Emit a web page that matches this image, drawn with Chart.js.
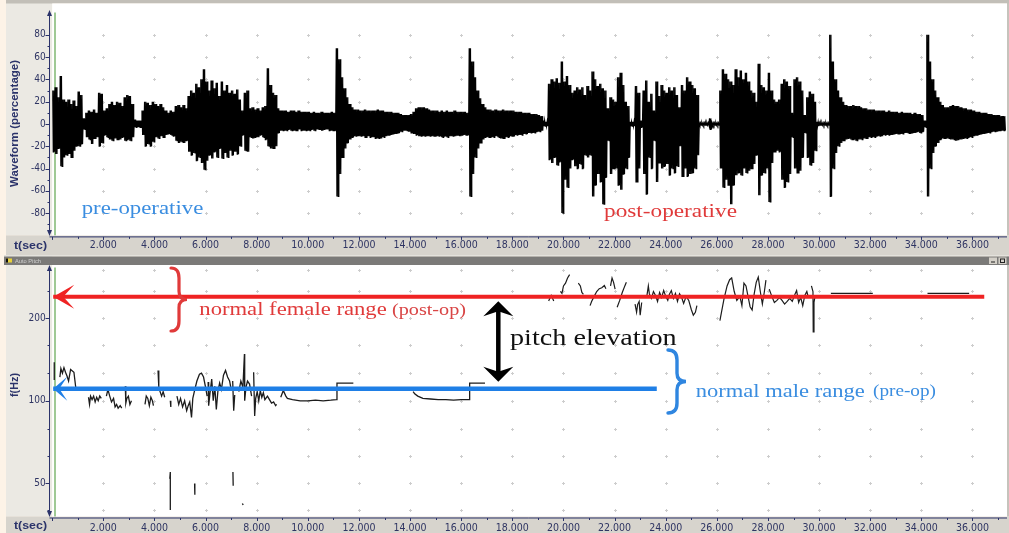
<!DOCTYPE html>
<html>
<head>
<meta charset="utf-8">
<script src="https://cdn.jsdelivr.net/npm/chart.js@4.4.1/dist/chart.umd.min.js"></script>
<style>
  html, body { margin: 0; padding: 0; background: #fdf3e7; }
  body { width: 1009px; height: 533px; position: relative; overflow: hidden; }
  canvas { position: absolute; left: 0; }
  #wave { top: 0; }
  #pitch { top: 255px; }
</style>
</head>
<body>
<canvas id="wave" width="1009" height="255"></canvas>
<canvas id="pitch" width="1009" height="278"></canvas>
<script>
// ---- time axis ----
const TIME_MAX = 37.35;
const TIME_STEP = 2;

// ---- waveform envelope, one value per 0.1 s bin (percent of full scale) ----
const WAVE_BIN = 0.1;
const waveUpper = [
  30, 33, 24, 43, 22, 20, 22, 18, 21, 16,
  29, 26, 5, 10, 12, 11, 13, 10, 28, 27,
  12, 14, 18, 20, 17, 20, 19, 16, 24, 26,
  25, 18, 4, 3, 3, 12, 20, 19, 17, 20,
  18, 16, 18, 15, 12, 10, 12, 11, 16, 17,
  15, 17, 14, 25, 30, 28, 36, 33, 40, 49,
  38, 30, 39, 32, 37, 25, 38, 30, 35, 28,
  30, 27, 31, 22, 12, 28, 30, 14, 15, 13,
  14, 12, 15, 16, 50, 35, 28, 26, 14, 12,
  12, 12, 11, 12, 12, 11, 12, 11, 11, 11,
  11, 10, 11, 10, 10, 11, 10, 10, 10, 11,
  10, 68, 58, 42, 32, 24, 18, 15, 13, 13,
  12, 12, 13, 12, 12, 12, 12, 13, 12, 12,
  11, 11, 11, 10, 10, 10, 9, 8, 8, 8,
  9, 11, 14, 15, 15, 15, 14, 13, 12, 12,
  12, 11, 12, 11, 12, 11, 11, 12, 11, 11,
  11, 11, 10, 68, 56, 42, 30, 23, 18, 15,
  13, 13, 12, 13, 12, 12, 13, 12, 12, 12,
  12, 11, 11, 11, 10, 10, 10, 9, 9, 9,
  8, 7, 3, 2, 36, 40, 38, 41, 37, 56,
  38, 43, 35, 28, 30, 33, 31, 33, 26, 34,
  30, 47, 40, 34, 36, 32, 30, 14, 24, 22,
  20, 42, 46, 35, 20, 16, 2, 2, 34, 28,
  3, 30, 39, 20, 27, 12, 38, 25, 35, 30,
  28, 33, 30, 33, 26, 15, 35, 30, 42, 38,
  35, 32, 26, 1, 1, 1, 1, 5, 1, 1,
  1, 30, 49, 45, 40, 38, 35, 49, 42, 48,
  40, 46, 38, 30, 28, 20, 54, 35, 33, 30,
  46, 30, 22, 20, 22, 36, 40, 38, 34, 10,
  40, 42, 38, 30, 8, 24, 29, 27, 20, 2,
  1, 1, 1, 1, 80, 56, 40, 30, 24, 20,
  17, 16, 16, 17, 16, 16, 15, 14, 14, 13,
  13, 13, 12, 12, 12, 12, 11, 12, 11, 11,
  11, 10, 11, 10, 10, 10, 9, 10, 9, 9,
  8, 3, 80, 56, 40, 30, 24, 20, 17, 15,
  15, 16, 17, 16, 16, 15, 14, 14, 13, 13,
  12, 11, 11, 10, 10, 10, 9, 9, 8, 8,
  8, 7, 7
];
const waveLower = [
  -25, -27, -22, -38, -30, -28, -27, -30, -24, -20,
  -20, -18, -5, -12, -14, -18, -13, -12, -20, -17,
  -10, -12, -14, -15, -13, -14, -14, -12, -15, -14,
  -15, -12, -3, -3, -3, -10, -20, -18, -20, -16,
  -12, -13, -11, -12, -10, -9, -10, -11, -15, -17,
  -16, -17, -15, -25, -28, -26, -33, -30, -35, -41,
  -33, -28, -31, -25, -30, -22, -31, -26, -30, -24,
  -28, -25, -27, -20, -10, -24, -25, -12, -13, -12,
  -12, -10, -12, -14, -20, -22, -22, -20, -8, -6,
  -6, -6, -5, -6, -6, -6, -5, -6, -6, -6,
  -6, -5, -6, -5, -5, -6, -5, -5, -6, -6,
  -6, -65, -45, -30, -22, -17, -14, -12, -11, -11,
  -11, -11, -12, -11, -12, -12, -13, -13, -13, -12,
  -11, -10, -10, -9, -9, -8, -7, -6, -6, -7,
  -8, -9, -10, -11, -11, -11, -11, -11, -11, -11,
  -11, -11, -12, -11, -12, -11, -11, -11, -10, -11,
  -10, -10, -10, -65, -45, -30, -22, -17, -14, -12,
  -12, -12, -12, -11, -12, -13, -13, -12, -12, -11,
  -11, -10, -10, -10, -9, -9, -8, -8, -8, -7,
  -7, -6, -2, -2, -32, -35, -30, -37, -34, -80,
  -50, -57, -40, -32, -38, -40, -36, -40, -28, -30,
  -28, -65, -55, -45, -52, -72, -48, -15, -45, -40,
  -40, -55, -59, -45, -40, -30, -2, -2, -52, -40,
  -3, -45, -63, -30, -40, -15, -52, -35, -40, -38,
  -36, -46, -40, -44, -38, -20, -47, -40, -47, -45,
  -44, -40, -28, -1, -1, -1, -1, -5, -1, -1,
  -1, -40, -57, -50, -55, -72, -55, -46, -44, -46,
  -40, -44, -42, -40, -36, -28, -64, -46, -44, -40,
  -70, -35, -25, -24, -25, -50, -57, -52, -45, -12,
  -40, -44, -42, -30, -8, -30, -37, -35, -24, -2,
  -1, -1, -1, -1, -65, -40, -26, -20, -17, -15,
  -14, -13, -14, -14, -15, -14, -14, -13, -13, -12,
  -12, -12, -11, -11, -11, -10, -10, -10, -10, -9,
  -9, -9, -9, -8, -8, -9, -8, -8, -7, -8,
  -7, -3, -65, -40, -26, -20, -17, -14, -13, -13,
  -13, -14, -14, -15, -14, -14, -13, -13, -12, -12,
  -11, -10, -10, -9, -9, -8, -8, -7, -7, -7,
  -6, -6, -6
];
const waveTicks = [-80, -60, -40, -20, 0, 20, 40, 60, 80];

// ---- pitch track (Hz), null = break in the track ----
const pitchMinHz = 37.9;
const pitchMaxHz = 305.7;
const pitchGridHz = [40, 50, 63, 79, 100, 126, 159, 200, 252, 300];
const pitchLabelHz = [50, 100, 200];

const femaleRangeHz = 239;
const femaleRangeTime = [0.04, 36.46];
const maleRangeHz = 110.5;
const maleRangeTime = [0.04, 23.65];

const preOpTime = [
  0.08, 0.08, null,
  0.30, 0.34, 0.40, 0.46, 0.52, 0.58, 0.64, 0.72, 0.85, 0.92, 1.00, 1.08, null,
  1.42, 1.46, 1.50, 1.56, 1.62, 1.68, 1.74, 1.80, 1.86, 1.92, null,
  2.12, 2.18, 2.25, 2.32, 2.40, 2.46, 2.52, 2.58, 2.66, 2.72, null,
  2.86, 2.88, 2.92, 2.98, 3.04, 3.10, null,
  3.63, 3.68, 3.74, 3.80, 3.86, 3.92, 3.96, null,
  4.14, 4.17, 4.22, 4.28, 4.34, 4.40, null,
  4.62, 4.64, null,
  4.88, 4.95, 5.02, 5.10, 5.18, 5.26, 5.32, 5.38, 5.45, 5.50, 5.58, 5.66, 5.76, 5.84, 5.92, 6.00, 6.06, null,
  6.10, 6.12, 6.18, 6.24, 6.30, 6.36, 6.42, 6.48, 6.55, 6.62, 6.70, 6.78, 6.86, 6.94, 7.00, null,
  7.06, 7.10, 7.14, null,
  7.30, 7.38, 7.46, 7.52, 7.53, 7.58, 7.64, 7.72, 7.80, null,
  7.88, 7.92, 7.96, 8.02, 8.08, 8.14, 8.20, 8.26, 8.32, 8.42, 8.50, 8.58, 8.66, 8.74, 8.78, null,
  8.94, 9.04, 9.14, 9.20, 9.40, 9.70, 10.00, 10.30, 10.60, 10.90, 11.12, 11.14, 11.78, null,
  14.12, 14.18, 14.30, 14.50, 14.80, 15.10, 15.40, 15.70, 16.00, 16.31, 16.33, 16.93
];
const preOpHz = [
  138, 119, null,
  122, 131, 126, 132, 127, 123, 118, 130, 127, 112, 110, 111, null,
  103, 97, 104, 101, 104, 99, 103, 100, 104, 102, null,
  104, 110, 104, 99, 102, 95, 97, 94, 96, 94, null,
  113, 98, 102, 104, 97, 100, null,
  97, 104, 102, 96, 103, 100, 96, null,
  129, 112, 108, 104, 108, 103, null,
  100, 95, null,
  104, 97, 102, 95, 100, 92, 96, 99, 87, 102, 110, 118, 125, 126, 122, 112, 104, null,
  117, 96, 108, 120, 100, 113, 93, 108, 116, 110, 124, 129, 122, 118, 110, null,
  118, 92, 105, null,
  108, 118, 112, 148, 100, 112, 118, 115, 104, null,
  127, 88, 102, 108, 100, 109, 103, 107, 101, 104, 101, 98, 99, 96, 97, null,
  103, 109, 104, 102, 101, 100, 100, 100.5, 100, 100.5, 101, 116, 116, null,
  108, 106, 104, 102, 101.5, 101, 101, 100.5, 101, 101, 116, 116
];
const lowTime = [4.60, 4.62, 4.62, null, 5.57, 5.58, null, 7.07, 7.08, null, 7.44, 7.47];
const lowHz = [52, 55, 40, null, 50, 45.5, null, 55, 49, null, 42.3, 41.7];
const postOpTime = [
  19.42, 19.52, 19.62, null,
  19.88, 19.94, 20.00, 20.08, 20.16, 20.24, null,
  20.58, 20.66, 20.72, 20.78, null,
  21.04, 21.10, 21.20, 21.30, 21.40, 21.50, 21.60, 21.66, null,
  21.84, 21.90, 21.96, 22.02, null,
  22.10, 22.20, 22.30, 22.40, 22.46, null,
  22.80, 22.86, 22.90, 22.96, 23.00, 23.06, null,
  23.26, 23.32, 23.36, 23.44, 23.52, 23.60, 23.68, 23.76, 23.84, 23.92, 24.00, 24.08, 24.14,
  24.22, 24.30, 24.38, 24.46, 24.54, 24.62, 24.70, 24.80, 24.90, 25.00, 25.08, 25.16, 25.22, null,
  26.12, 26.18, 26.28, 26.40, 26.50, 26.58, 26.68, 26.78, 26.90, 26.98, 27.06,
  27.14, 27.22, 27.30, 27.38, 27.46, 27.54, 27.62, 27.70, 27.78, 27.86, 27.92, null,
  28.05, 28.15, 28.25, 28.35, 28.45, 28.55, 28.65, 28.75, 28.85,
  28.95, 29.06, 29.12, 29.20, 29.28, 29.36, 29.44, 29.52, 29.58, null,
  29.70, 29.76, 29.77, 29.80, 29.84, null,
  30.46, 32.10, null,
  34.24, 35.87
];
const postOpHz = [
  231, 242, 231, null,
  250, 246, 262, 268, 280, 288, null,
  268, 262, 248, 244, null,
  222, 230, 240, 250, 256, 258, 263, 256, null,
  262, 280, 270, 255, null,
  219, 232, 248, 262, 270, null,
  225, 210, 224, 230, 205, 228, null,
  240, 262, 245, 236, 250, 242, 230, 248, 238, 252, 240, 232, 244,
  252, 236, 246, 230, 245, 238, 226, 240, 232, 215, 205, 210, 222, null,
  196, 210, 235, 262, 276, 280, 250, 232, 240, 222, 268,
  262, 240, 220, 214, 245, 270, 282, 250, 225, 250, 275, null,
  255, 240, 228, 232, 238, 232, 225, 230, 236,
  230, 245, 252, 228, 238, 222, 242, 250, 238, null,
  262, 250, 178, 228, 240, null,
  246, 246, null,
  246, 246
];

// ---- look ----
const NAVY = '#2b336a';
const TICK_COLOR = '#2f3563';
const RED = '#e03a3a';
const BLUE = '#3a8de0';
const NARROW = '"Liberation Sans Narrow", "DejaVu Sans Condensed", "Liberation Sans", Arial, sans-serif';
const SANS = '"Liberation Sans", Arial, sans-serif';
const SERIF = '"Liberation Serif", "Times New Roman", serif';

[[waveUpper, waveLower], [preOpTime, preOpHz], [lowTime, lowHz], [postOpTime, postOpHz]].forEach(([a, b]) => {
  if (a.length !== b.length) throw new Error('array length mismatch ' + a.length + ' vs ' + b.length);
});

function toPoints(times, values) {
  return times.map((t, i) => ({ x: t === null ? times[i - 1] : t, y: values[i] }));
}

// text squeezed/stretched to the width it has in the picture
function fitText(ctx, text, x, y, font, color, width, opts = {}) {
  ctx.save();
  ctx.font = font;
  ctx.fillStyle = color;
  ctx.textBaseline = opts.baseline || 'alphabetic';
  ctx.textAlign = 'left';
  const natural = ctx.measureText(text).width;
  const sx = width ? width / natural : 1;
  ctx.translate(x, y);
  if (opts.rotate) ctx.rotate(opts.rotate);
  ctx.scale(sx, 1);
  ctx.fillText(text, 0, 0);
  ctx.restore();
}

function arrowHead(ctx, tx, ty, dx, dy, len, half, notch, color) {
  const nx = -dy, ny = dx;
  const bx = tx - dx * len, by = ty - dy * len;
  ctx.save();
  ctx.fillStyle = color;
  ctx.beginPath();
  ctx.moveTo(tx, ty);
  ctx.lineTo(bx + nx * half, by + ny * half);
  ctx.lineTo(tx - dx * notch, ty - dy * notch);
  ctx.lineTo(bx - nx * half, by - ny * half);
  ctx.closePath();
  ctx.fill();
  ctx.restore();
}

function brace(ctx, x, yTop, yBot, w, color, lw) {
  const h = yBot - yTop, ym = (yTop + yBot) / 2, xm = x + w * 0.5;
  ctx.save();
  ctx.strokeStyle = color;
  ctx.lineWidth = lw;
  ctx.lineCap = 'round';
  ctx.beginPath();
  ctx.moveTo(x, yTop);
  ctx.quadraticCurveTo(xm, yTop, xm, yTop + h * 0.16);
  ctx.lineTo(xm, ym - h * 0.13);
  ctx.quadraticCurveTo(xm, ym, x + w, ym);
  ctx.quadraticCurveTo(xm, ym, xm, ym + h * 0.13);
  ctx.lineTo(xm, yBot - h * 0.16);
  ctx.quadraticCurveTo(xm, yBot, x, yBot);
  ctx.stroke();
  ctx.restore();
}

function timeAxis(height, pad) {
  return {
    type: 'linear', min: 0, max: TIME_MAX, offset: false,
    grid: { display: false, drawTicks: false, offset: false },
    border: { display: false },
    ticks: {
      stepSize: TIME_STEP, includeBounds: false, autoSkip: false, maxRotation: 0, minRotation: 0,
      padding: pad, color: TICK_COLOR, font: { family: NARROW, size: 10.5 },
      callback: v => (v === 0 ? '' : v.toFixed(3))
    },
    afterFit: s => { s.height = height; }
  };
}

// panel frame, axes, grid marks and notes around each plot
function panel(cfg) {
  return {
    id: 'panel',
    beforeDraw(chart) {
      const { ctx, chartArea: a, width, height } = chart;
      ctx.save();
      ctx.fillStyle = '#fdf3e7';
      ctx.fillRect(0, 0, width, height);
      ctx.fillStyle = '#ebe9e3';
      ctx.fillRect(6, 0, a.left - 6, a.bottom);
      ctx.fillStyle = '#d7d4cd';
      ctx.fillRect(6, a.bottom, width - 6, height - a.bottom);
      ctx.fillStyle = '#c6c3bc';
      ctx.fillRect(a.right, 0, width - a.right, a.bottom);
      if (cfg.kind === 'wave') {
        ctx.fillStyle = '#c2bfb8';
        ctx.fillRect(6, 0, width - 6, 3.5);
        ctx.fillStyle = '#ffffff';
        ctx.fillRect(a.left, 3.5, a.right - a.left, a.bottom - 3.5);
      } else {
        ctx.fillStyle = '#e4e2dc';
        ctx.fillRect(4, 0, width - 4, 1.5);
        ctx.fillStyle = '#7b7a78';
        ctx.fillRect(4, 1.5, width - 4, 8.5);
        ctx.fillStyle = '#e8d23a';
        ctx.fillRect(6, 3.5, 6, 4);
        ctx.fillStyle = '#111';
        ctx.fillRect(6, 3.5, 2, 4);
        fitText(ctx, 'Auto Pitch', 15, 8.3, '6px ' + SANS, '#cfcfcf', 26);
        ctx.fillStyle = '#d4d0c8';
        ctx.fillRect(989, 2.5, 8, 6.5);
        ctx.fillRect(998.5, 2.5, 8, 6.5);
        ctx.fillStyle = '#222';
        ctx.fillRect(991, 6.5, 4, 1);
        ctx.strokeStyle = '#222';
        ctx.lineWidth = 1;
        ctx.strokeRect(1000.5, 4, 4, 3.5);
        ctx.fillStyle = '#ffffff';
        ctx.fillRect(a.left, 10, a.right - a.left, a.bottom - 10);
      }
      ctx.restore();
    },
    beforeDatasetsDraw(chart) {
      const { ctx, chartArea: a, scales: { x, y } } = chart;
      ctx.save();
      ctx.strokeStyle = '#cdcdcd';
      ctx.lineWidth = 1;
      x.ticks.forEach(tx => {
        if (tx.value <= 0) return;
        const px = Math.round(x.getPixelForValue(tx.value)) + 0.5;
        cfg.gridY.forEach(v => {
          const py = Math.round(y.getPixelForValue(v)) + 0.5;
          ctx.beginPath();
          ctx.moveTo(px - 1.5, py); ctx.lineTo(px + 1.5, py);
          ctx.moveTo(px, py - 1.5); ctx.lineTo(px, py + 1.5);
          ctx.stroke();
        });
      });
      // cursor line
      ctx.strokeStyle = '#9fc995';
      ctx.lineWidth = 2;
      const cx = x.getPixelForValue(0.11);
      ctx.beginPath(); ctx.moveTo(cx, a.top); ctx.lineTo(cx, a.bottom); ctx.stroke();
      ctx.restore();
    },
    afterDraw(chart) {
      const { ctx, chartArea: a, scales: { x, y }, height } = chart;
      ctx.save();
      ctx.strokeStyle = NAVY;
      ctx.fillStyle = NAVY;
      ctx.lineWidth = 1;
      const ax = a.left - 2.7;
      ctx.beginPath(); ctx.moveTo(ax, a.top); ctx.lineTo(ax, a.bottom - 2); ctx.stroke();
      arrowHead(ctx, ax, a.top - 2.5, 0, -1, 6, 2.5, 6, NAVY);
      arrowHead(ctx, ax, a.bottom + 0.5, 0, 1, 6, 2.5, 6, NAVY);
      // y tick marks
      y.ticks.forEach((tk, i) => {
        const py = Math.round(y.getPixelForValue(tk.value)) + 0.5;
        if (py < a.top + 2 || py > a.bottom - 2) return;
        const major = tk.label !== '';
        ctx.beginPath(); ctx.moveTo(ax - (major ? 4 : 2), py); ctx.lineTo(ax, py); ctx.stroke();
        if (cfg.kind === 'wave' && i > 0) {
          const mid = Math.round(y.getPixelForValue((tk.value + y.ticks[i - 1].value) / 2)) + 0.5;
          ctx.beginPath(); ctx.moveTo(ax - 2, mid); ctx.lineTo(ax, mid); ctx.stroke();
        }
      });
      // x axis line and ticks
      const ay = a.bottom + 1.5;
      ctx.beginPath(); ctx.moveTo(ax, ay); ctx.lineTo(a.right, ay); ctx.stroke();
      for (let t = 0; t <= TIME_MAX; t += 1) {
        const px = Math.round(x.getPixelForValue(t)) + 0.5;
        ctx.beginPath(); ctx.moveTo(px, ay); ctx.lineTo(px, ay + (t % 2 === 0 ? 3 : 2)); ctx.stroke();
      }
      // axis titles
      fitText(ctx, 't(sec)', 14, (a.bottom + height) / 2 + 4, 'bold 10px ' + SANS, NAVY, 33);
      fitText(ctx, cfg.yTitle, 17.5, cfg.yTitleY, 'bold 10px ' + SANS, NAVY, cfg.yTitleLen,
        { rotate: -Math.PI / 2 });
      ctx.restore();
      cfg.annotate(chart);
    }
  };
}

// ---- waveform panel: each 0.1 s bin drawn as two swings between its peak and trough ----
const wavePoints = [];
waveUpper.forEach((hi, i) => {
  const t0 = i * WAVE_BIN;
  [0.125, 0.375, 0.625, 0.875].forEach((f, k) => {
    wavePoints.push({ x: t0 + WAVE_BIN * f, y: k % 2 === 0 ? hi : waveLower[i] });
  });
});

new Chart(document.getElementById('wave'), {
  type: 'line',
  data: {
    datasets: [{
      data: wavePoints,
      borderColor: '#000000',
      borderWidth: 1.2,
      pointRadius: 0,
      tension: 0
    }]
  },
  options: {
    responsive: false,
    animation: false,
    devicePixelRatio: 1,
    events: [],
    layout: { autoPadding: false, padding: { top: 6.6, right: 2, left: 0, bottom: 0 } },
    plugins: { legend: { display: false }, tooltip: { enabled: false } },
    scales: {
      x: timeAxis(19.6, 4),
      y: {
        type: 'linear', min: -100, max: 100,
        grid: { display: false, drawTicks: false },
        border: { display: false },
        ticks: {
          stepSize: 20, padding: 6.5, color: TICK_COLOR, font: { family: NARROW, size: 10 },
          callback: v => (waveTicks.includes(v) ? String(v) : '')
        },
        afterFit: s => { s.width = 52.2; }
      }
    }
  },
  plugins: [panel({
    kind: 'wave',
    gridY: waveTicks.filter(v => v !== 0),
    yTitle: 'Waveform (percentage)',
    yTitleY: 187,
    yTitleLen: 127,
    annotate(chart) {
      const { ctx } = chart;
      fitText(ctx, 'pre-operative', 81.7, 214, '19.5px ' + SERIF, BLUE, 121.6);
      fitText(ctx, 'post-operative', 604, 216.5, '19.5px ' + SERIF, RED, 133);
    }
  })]
});

// ---- pitch panel ----
const traceStyle = { borderColor: '#1c1c1c', borderWidth: 1.3, pointRadius: 0, spanGaps: false, tension: 0 };

new Chart(document.getElementById('pitch'), {
  type: 'line',
  data: {
    datasets: [
      {
        data: femaleRangeTime.map(t => ({ x: t, y: femaleRangeHz })),
        borderColor: '#ef2323', borderWidth: 4, pointRadius: 0
      },
      {
        data: maleRangeTime.map(t => ({ x: t, y: maleRangeHz })),
        borderColor: '#1f7fe6', borderWidth: 4.5, pointRadius: 0
      },
      { data: toPoints(preOpTime, preOpHz), ...traceStyle },
      { data: toPoints(lowTime, lowHz), ...traceStyle },
      { data: toPoints(postOpTime, postOpHz), ...traceStyle, borderWidth: 1.2 }
    ]
  },
  options: {
    responsive: false,
    animation: false,
    devicePixelRatio: 1,
    events: [],
    layout: { autoPadding: false, padding: { top: 11.5, right: 2, left: 0, bottom: 0 } },
    plugins: { legend: { display: false }, tooltip: { enabled: false } },
    scales: {
      x: timeAxis(16.5, 5),
      y: {
        type: 'logarithmic', min: pitchMinHz, max: pitchMaxHz,
        grid: { display: false, drawTicks: false },
        border: { display: false },
        afterBuildTicks: s => { s.ticks = pitchGridHz.map(value => ({ value })); },
        ticks: {
          padding: 6.5, color: TICK_COLOR, font: { family: NARROW, size: 10 },
          callback: v => (pitchLabelHz.includes(v) ? String(v) : '')
        },
        afterFit: s => { s.width = 52.2; }
      }
    }
  },
  plugins: [panel({
    kind: 'pitch',
    gridY: pitchGridHz,
    yTitle: 'f(Hz)',
    yTitleY: 142,
    yTitleLen: 24,
    annotate(chart) {
      const { ctx, scales: { x, y } } = chart;
      const O = 255; // canvas offset on the page
      // range arrows
      arrowHead(ctx, x.getPixelForValue(femaleRangeTime[0]), y.getPixelForValue(femaleRangeHz), -1, 0, 21, 12, 10, '#ef2323');
      arrowHead(ctx, x.getPixelForValue(maleRangeTime[0]), y.getPixelForValue(maleRangeHz), -1, 0, 14, 12, 6, '#1f7fe6');
      brace(ctx, 171, 268 - O, 331 - O, 16, RED, 3.2);
      brace(ctx, 668, 350 - O, 413 - O, 18, '#2f86e0', 3.4);
      fitText(ctx, 'normal female range', 199.3, 314.7 - O, '19.5px ' + SERIF, RED, 187.4);
      fitText(ctx, '(post-op)', 392, 314.7 - O, '16px ' + SERIF, '#d94545', 74);
      fitText(ctx, 'normal male range', 695.7, 396.7 - O, '19.5px ' + SERIF, BLUE, 169);
      fitText(ctx, '(pre-op)', 873, 396.2 - O, '16px ' + SERIF, BLUE, 63);
      // pitch elevation arrow
      ctx.save();
      ctx.strokeStyle = '#000';
      ctx.lineWidth = 4.5;
      ctx.beginPath(); ctx.moveTo(498.3, 310 - O); ctx.lineTo(498.3, 373 - O); ctx.stroke();
      ctx.restore();
      arrowHead(ctx, 498.3, 301.3 - O, 0, -1, 15, 15, 10, '#000');
      arrowHead(ctx, 498.3, 381.7 - O, 0, 1, 15, 15, 10, '#000');
      fitText(ctx, 'pitch elevation', 510, 345.3 - O, '23px ' + SERIF, '#111', 166.7);
    }
  })]
});
</script>
</body>
</html>
